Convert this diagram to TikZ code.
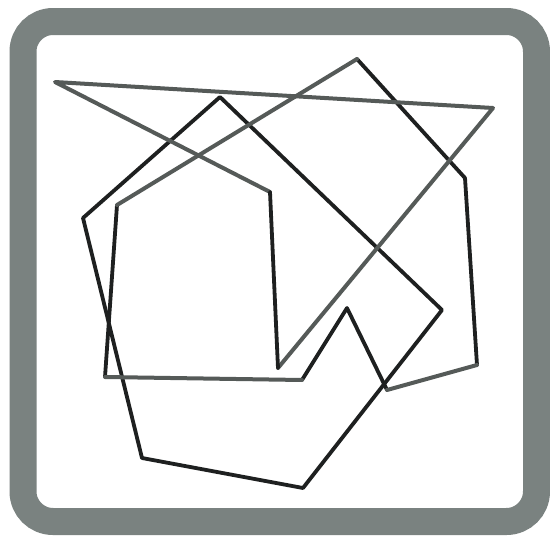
\documentclass[tikz,border=0pt]{standalone}
\usepackage{tikz}
\definecolor{framegray}{RGB}{122,130,128}
\definecolor{inkdark}{RGB}{30,32,32}
\definecolor{inkgray}{RGB}{85,90,88}
\begin{document}
\begin{tikzpicture}[x=1pt,y=-1pt,
  frame/.style={draw=framegray,line width=27pt,rounded corners=30pt,fill=white},
  darkedge/.style={draw=inkdark,line width=3.8pt,line join=round,line cap=round},
  grayedge/.style={draw=inkgray,line width=4pt,line join=round,line cap=round}]
\useasboundingbox (0,0) rectangle (550,536);
\fill[white] (0,0) rectangle (550,536);
\draw[frame] (23,21.5) rectangle (536.5,521.5);
% polygon A
\coordinate (a1) at (55,82);
\coordinate (a2) at (493,108);
\coordinate (a3) at (278,368);
\coordinate (a4) at (270,192);
% polygon B
\coordinate (b1) at (83,218);
\coordinate (b2) at (220,97);
\coordinate (b3) at (442,310);
\coordinate (b4) at (303,488);
\coordinate (b5) at (142,458);
% polygon C
\coordinate (c1) at (117,205);
\coordinate (c2) at (357,59);
\coordinate (c3) at (465,178);
\coordinate (c4) at (477,365);
\coordinate (c5) at (387,390);
\coordinate (c6) at (347,308);
\coordinate (c7) at (302,380);
\coordinate (c8) at (105,377);
% B
\draw[darkedge] (b1) -- (b2) -- (b3) -- (b4) -- (b5) -- cycle;
% C
\draw[darkedge] (c2) -- (c3) -- (c4);
\draw[darkedge] (c5) -- (c6) -- (c7);
\draw[darkedge] (c8) -- (c1);
\draw[grayedge] (c1) -- (c2);
\draw[grayedge] (c4) -- (c5);
\draw[grayedge] (c7) -- (c8);
% A
\draw[grayedge] (a4) -- (a1) -- (a2) -- (a3);
\draw[darkedge] (a3) -- (a4);
\end{tikzpicture}
\end{document}
